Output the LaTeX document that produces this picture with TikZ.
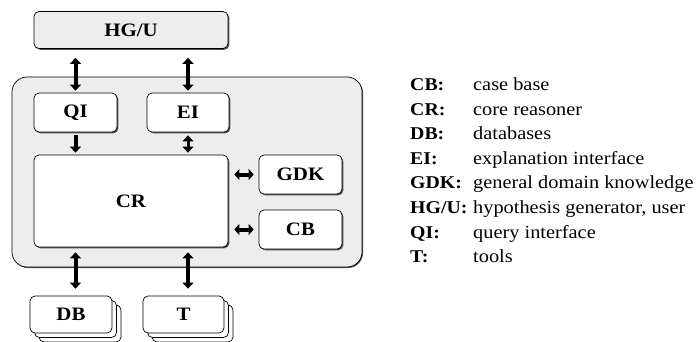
\documentclass[tikz,border=0pt]{standalone}
\usepackage{fontspec}
\setmainfont{Liberation Serif}[FakeStretch=1.1]
\usetikzlibrary{arrows.meta,shadows}

\tikzset{
    unit/.style={draw, rounded corners=5pt, fill=white, line width=0.7pt,
        font=\fontsize{19}{22}\selectfont\bfseries, inner sep=0pt,
        drop shadow={shadow xshift=1.3pt, shadow yshift=-1.3pt, fill=black!70, opacity=1}},
    stacked/.style={draw, rounded corners=5pt, fill=white, line width=0.7pt,
        font=\fontsize{19}{22}\selectfont\bfseries, inner sep=0pt,
        double copy shadow={shadow xshift=4.5pt, shadow yshift=-4.5pt}},
    link/.style={line width=4pt, {Triangle[width=11pt,length=6pt]}-{Triangle[width=11pt,length=6pt]}},
    feed/.style={line width=4pt, -{Triangle[width=11pt,length=6pt]}},
    sidelink/.style={line width=4pt, {Triangle[width=11pt,length=5pt]}-{Triangle[width=11pt,length=5pt]}},
    legkey/.style={anchor=base west, font=\fontsize{18}{22}\selectfont\bfseries, inner sep=0pt},
    legtxt/.style={anchor=base west, font=\fontsize{18.5}{22}\selectfont, inner sep=0pt}
}

\begin{document}
\begin{tikzpicture}[x=1pt, y=-1pt]
    \useasboundingbox (0,0) rectangle (698,342);

    % system frame
    \node (sys) [draw, rounded corners=15pt, fill=black!7, line width=0.7pt,
        minimum width=350pt, minimum height=190pt,
        drop shadow={shadow xshift=1pt, shadow yshift=-1pt, fill=black!70, opacity=1}] at (187,172) {};

    \node (hgu) [unit, fill=black!7, minimum width=194pt, minimum height=37pt] at (131,30) {HG/U};
    \node (qi) [unit, minimum width=83pt, minimum height=39pt] at (75.5,112.5) {QI};
    \node (ei) [unit, minimum width=82pt, minimum height=39pt] at (188,112.5) {EI};
    \node (cr) [unit, minimum width=194pt, minimum height=92pt] at (131,201) {CR};
    \node (gdk) [unit, minimum width=83pt, minimum height=39pt] at (300.5,174.5) {GDK};
    \node (cb) [unit, minimum width=83pt, minimum height=39pt] at (300.5,229.5) {CB};
    \node (db) [stacked, minimum width=82pt, minimum height=37pt] at (71,314.5) {DB};
    \node (t) [stacked, minimum width=81pt, minimum height=37pt] at (183.5,314.5) {T};

    \draw[link, shorten <=9pt, shorten >=2pt] (hgu.south -| qi.north) -- (qi.north);
    \draw[link, shorten <=9pt, shorten >=2pt] (hgu.south -| ei.north) -- (ei.north);
    \draw[feed, shorten <=3pt, shorten >=2pt] (qi.south) -- (cr.north -| qi.south);
    \draw[link, line width=3pt, shorten <=3pt, shorten >=2pt] (ei.south) -- (cr.north -| ei.south);
    \draw[sidelink, shorten <=6pt, shorten >=5pt] (cr.east |- gdk.west) -- (gdk.west);
    \draw[sidelink, shorten <=6pt, shorten >=5pt] (cr.east |- cb.west) -- (cb.west);
    \draw[link, shorten <=5pt, shorten >=7pt] (cr.south -| qi.south) -- (db.north -| qi.south);
    \draw[link, shorten <=5pt, shorten >=7pt] (cr.south -| ei.south) -- (t.north -| ei.south);

    % legend
    \foreach \key/\txt [count=\i] in {CB/case base, CR/core reasoner, DB/databases,
        EI/explanation interface, GDK/general domain knowledge,
        {HG/U}/{hypothesis generator, user}, QI/query interface, T/tools} {
        \node (key\i) [legkey] at (410, 90.5 + 24.6*\i - 24.6) {\key:};
        \node (txt\i) [legtxt] at (473, 90.5 + 24.6*\i - 24.6) {\txt};
    }
\end{tikzpicture}
\end{document}
